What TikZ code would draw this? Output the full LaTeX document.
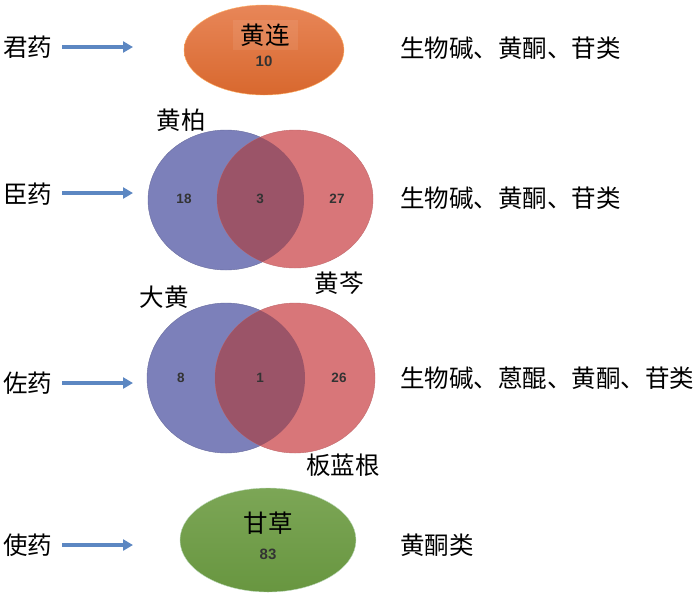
\documentclass[tikz,border=0pt]{standalone}
\usepackage{fontspec}
\setmainfont{Liberation Sans}
\newfontfamily\cjk{Noto Sans CJK SC}
\usetikzlibrary{shapes.geometric,arrows.meta}
\definecolor{vblue}{HTML}{7C80BA}
\definecolor{vred}{HTML}{D87679}
\definecolor{vmix}{HTML}{9B5468}
\definecolor{arrblue}{HTML}{5C87C2}
\tikzset{
  lbl/.style={font=\cjk\fontsize{24.5}{29}\selectfont, inner sep=0pt, text=black},
  num/.style={font=\bfseries\fontsize{13.5}{16}\selectfont, text=black!80, inner sep=0pt},
  bignum/.style={font=\bfseries\fontsize{15}{18}\selectfont, text=black!80, inner sep=0pt},
  arr/.style={draw=arrblue, line width=4pt, -{Triangle[width=11pt,length=10pt]}},
}
\begin{document}
\begin{tikzpicture}[x=1pt,y=-1pt]
\useasboundingbox (0,0) rectangle (700,595);
% top ellipse
\node[ellipse, draw=orange!60!white, line width=0.4pt, top color={rgb,255:red,232;green,134;blue,88}, bottom color={rgb,255:red,216;green,104;blue,46}, minimum width=160pt, minimum height=90pt] (e1) at (264,50) {};
\node[lbl, fill=white, fill opacity=0.08, text opacity=1, inner xsep=8pt, inner ysep=4pt] (t1) at (265,35) {黄连};
\node[bignum] (n1) at (264,61) {10};
% bottom ellipse
\node[ellipse, draw=green!30!gray!40, line width=0.4pt, top color={rgb,255:red,124;green,166;blue,86}, bottom color={rgb,255:red,104;green,150;blue,64}, minimum width=176pt, minimum height=104pt] (e4) at (268,540) {};
\node[lbl] (t4) at (268,523) {甘草};
\node[bignum] (n4) at (268,554) {83};
% venn 1
\path[fill=vblue, draw=vblue!85!black, line width=0.4pt] (226,200) ellipse [x radius=78, y radius=70];
\path[fill=vred, draw=vred!90!black, line width=0.4pt] (295,199) ellipse [x radius=78, y radius=69];
\begin{scope}
\clip (226,200) ellipse [x radius=78, y radius=70];
\path[fill=vmix] (295,199) ellipse [x radius=78, y radius=69];
\end{scope}
\node[num] (v1a) at (184,199) {18};
\node[num] (v1b) at (260,199) {3};
\node[num] (v1c) at (337,199) {27};
\node[lbl] (h1) at (181,120) {黄柏};
\node[lbl] (h2) at (339,283) {黄芩};
% venn 2
\path[fill=vblue, draw=vblue!85!black, line width=0.4pt] (226,378) ellipse [x radius=79, y radius=75];
\path[fill=vred, draw=vred!90!black, line width=0.4pt] (295,378) ellipse [x radius=80, y radius=75];
\begin{scope}
\clip (226,378) ellipse [x radius=79, y radius=75];
\path[fill=vmix] (295,378) ellipse [x radius=80, y radius=75];
\end{scope}
\node[num] (v2a) at (181,378) {8};
\node[num] (v2b) at (260,378) {1};
\node[num] (v2c) at (339,378) {26};
\node[lbl] (h3) at (164,297) {大黄};
\node[lbl] (h4) at (343,465) {板蓝根};
% left labels and arrows
\node[lbl, anchor=west] (l1) at (3,47) {君药};
\node[lbl, anchor=west] (l2) at (3,194) {臣药};
\node[lbl, anchor=west] (l3) at (3,383) {佐药};
\node[lbl, anchor=west] (l4) at (3,545) {使药};
\coordinate (s1) at (62,47);  \coordinate (a1) at (133,47);
\coordinate (s2) at (62,193); \coordinate (a2) at (133,193);
\coordinate (s3) at (62,383); \coordinate (a3) at (133,383);
\coordinate (s4) at (62,545); \coordinate (a4) at (133,545);
\draw[arr] (s1) -- (a1);
\draw[arr] (s2) -- (a2);
\draw[arr] (s3) -- (a3);
\draw[arr] (s4) -- (a4);
% right texts
\node[lbl, anchor=west] (r1) at (400,48) {生物碱、黄酮、苷类};
\node[lbl, anchor=west] (r2) at (400,198) {生物碱、黄酮、苷类};
\node[lbl, anchor=west] (r3) at (400,378) {生物碱、蒽醌、黄酮、苷类};
\node[lbl, anchor=west] (r4) at (400,545) {黄酮类};
\end{tikzpicture}
\end{document}
